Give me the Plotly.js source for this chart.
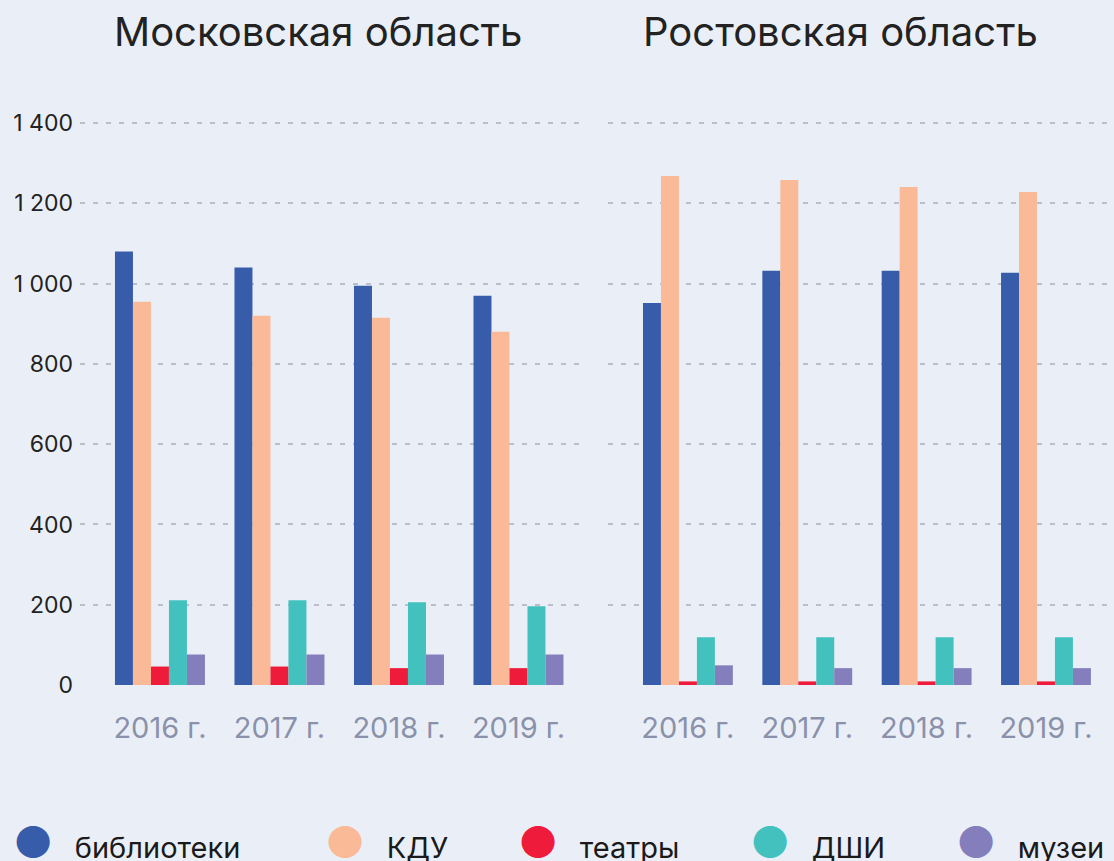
<!DOCTYPE html>
<html><head><meta charset="utf-8">
<script src="https://cdn.plot.ly/plotly-3.0.1.min.js"></script>
<style>html,body{margin:0;padding:0;background:#EAEFF7;}#c{width:1114px;height:861px;}</style>
</head><body><div id="c"></div>
<script>
const years = ['2016 г.', '2017 г.', '2018 г.', '2019 г.'];
const seriesNames = ['библиотеки', 'КДУ', 'театры', 'ДШИ', 'музеи'];
const colors = ['#375CAA', '#FABA98', '#EE1C3A', '#43C1BE', '#857EBC'];
const regionTitles = ['Московская область', 'Ростовская область'];

const moscowLib = [1080, 1040, 995, 970];
const moscowKdu = [955, 920, 915, 880];
const moscowTheatres = [46, 46, 42, 42];
const moscowDshi = [211, 211, 206, 196];
const moscowMuseums = [76, 76, 76, 76];

const rostovLib = [952, 1032, 1032, 1027];
const rostovKdu = [1268, 1258, 1241, 1228];
const rostovTheatres = [9, 9, 9, 9];
const rostovDshi = [119, 119, 119, 119];
const rostovMuseums = [49, 42, 42, 42];

const moscow = [moscowLib, moscowKdu, moscowTheatres, moscowDshi, moscowMuseums];
const rostov = [rostovLib, rostovKdu, rostovTheatres, rostovDshi, rostovMuseums];

const traces = [];
moscow.forEach((vals, i) => traces.push({type: 'bar', x: years, y: vals, name: seriesNames[i],
  marker: {color: colors[i]}, xaxis: 'x', yaxis: 'y', showlegend: false, hoverinfo: 'x+y+name'}));
rostov.forEach((vals, i) => traces.push({type: 'bar', x: years, y: vals, name: seriesNames[i],
  marker: {color: colors[i]}, xaxis: 'x2', yaxis: 'y2', showlegend: false, hoverinfo: 'x+y+name'}));

// legend entries (one legend per entry so they can be placed like the original)
const legendPx = [-27, 285, 478, 710, 916];
const legendIds = ['legend', 'legend2', 'legend3', 'legend4', 'legend5'];
seriesNames.forEach((n, i) => traces.push({type: 'scatter', mode: 'lines', x: [null], y: [null],
  xaxis: 'x', yaxis: 'y', line: {width: 0, color: 'rgba(0,0,0,0)'}, legend: legendIds[i],
  name: '<span style="color:' + colors[i] + '">●</span><span style="font-size:29px">\u00a0\u00a0\u2009' + n + '</span>', hoverinfo: 'skip'}));

const gridStyle = {gridcolor: '#BBBFCB', gridwidth: 2, griddash: '5px,8px'};
const xCommon = {type: 'category', showline: false, ticks: '', showgrid: false, zeroline: false,
  tickfont: {family: 'Inter, Roboto, sans-serif', size: 29, color: '#8A91AA'}, ticklabelstandoff: 23, fixedrange: true};
const yCommon = Object.assign({range: [0, 1450], showline: false, ticks: '', zeroline: false, dtick: 200,
  tick0: 0, separatethousands: true, fixedrange: true}, gridStyle);

const layout = {
  width: 1114, height: 861,
  paper_bgcolor: '#EAEFF7', plot_bgcolor: 'rgba(0,0,0,0)',
  margin: {l: 80, r: 0, t: 103, b: 176, autoexpand: false},
  separators: ', ',
  barmode: 'group', bargap: 0.247, bargroupgap: 0,
  font: {family: 'Inter, Roboto, sans-serif', color: '#222222'},
  xaxis: Object.assign({}, xCommon, {domain: [0, 0.4874], range: [-0.669, 3.548], anchor: 'y'}),
  xaxis2: Object.assign({}, xCommon, {domain: [0.5106, 1], range: [-0.67, 3.57], anchor: 'y2'}),
  yaxis: Object.assign({}, yCommon, {anchor: 'x', tickfont: {family: 'Inter, Roboto, sans-serif', size: 23, color: '#222222'}, ticklabelstandoff: 6}),
  yaxis2: Object.assign({}, yCommon, {anchor: 'x2', showticklabels: false}),
  annotations: [
    {text: regionTitles[0], xref: 'paper', yref: 'paper', x: (318 - 80) / 1034, y: (685 - 31) / 582,
     xanchor: 'center', yanchor: 'middle', showarrow: false, font: {size: 40, color: '#222222', family: 'Inter, Roboto, sans-serif'}},
    {text: regionTitles[1], xref: 'paper', yref: 'paper', x: (840 - 80) / 1034, y: (685 - 31) / 582,
     xanchor: 'center', yanchor: 'middle', showarrow: false, font: {size: 40, color: '#222222', family: 'Inter, Roboto, sans-serif'}}
  ]
};
legendIds.forEach((id, i) => {
  layout[id] = {x: (legendPx[i] - 80) / 1034, y: (685 - 841) / 582, xanchor: 'left', yanchor: 'middle', orientation: 'h',
    bgcolor: 'rgba(0,0,0,0)', borderwidth: 0, itemwidth: 30,
    font: {family: 'Inter, Roboto, sans-serif', size: 44, color: '#1A1A1A'}};
});

Plotly.newPlot('c', traces, layout, {displayModeBar: false, staticPlot: true});
</script></body></html>
